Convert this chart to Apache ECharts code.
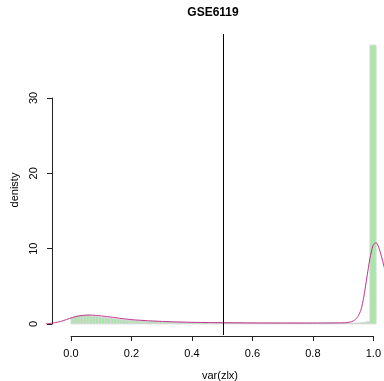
<!DOCTYPE html>
<html>
<head>
<meta charset="utf-8">
<script src="https://cdn.jsdelivr.net/npm/echarts@6/dist/echarts.min.js"></script>
<style>html,body{margin:0;padding:0;background:#fff}#c{width:384px;height:381px}</style>
</head>
<body>
<div id="c"></div>
<script>
// Histogram bins (edges and heights)
var binEdges = [0,0.01,0.02,0.03,0.04,0.05,0.06,0.07,0.08,0.09,
  0.10,0.11,0.12,0.13,0.14,0.15,0.16,0.17,0.18,0.19,
  0.20,0.21,0.22,0.23,0.24,0.25,0.26,0.27,0.28,0.29,
  0.30,0.31,0.32,0.33,0.34,0.35,0.36,0.37,0.38,0.39,
  0.40,0.41,0.42,0.43,0.44,0.45,0.46,0.47,0.48,0.49,
  0.50,0.51,0.52,0.53,0.54,0.55,0.56,0.57,0.58,0.59,
  0.60,0.61,0.62,0.63,0.64,0.65,0.66,0.67,0.68,0.69,
  0.70,0.71,0.72,0.73,0.74,0.75,0.76,0.77,0.78,0.79,
  0.80,0.81,0.82,0.83,0.84,0.85,0.86,0.87,0.88,0.89,
  0.90,0.91,0.92,0.93,0.94,0.95,0.96,0.97,0.98,1.00];
var binHeights = [0.85,0.95,1.05,1.1,1.1,1.1,1.05,1.0,0.95,0.9,
  0.85,0.8,0.75,0.7,0.65,0.6,0.56,0.52,0.48,0.45,
  0.42,0.4,0.38,0.36,0.34,0.32,0.3,0.29,0.28,0.27,
  0.26,0.25,0.24,0.23,0.22,0.21,0.2,0.2,0.19,0.18,
  0.18,0.17,0.17,0.16,0.16,0.15,0.15,0.14,0.14,0.14,
  0.13,0.13,0.13,0.12,0.12,0.12,0.12,0.11,0.11,0.11,
  0.11,0.11,0.1,0.1,0.1,0.1,0.1,0.1,0.1,0.1,
  0.1,0.1,0.1,0.1,0.1,0.09,0.09,0.09,0.09,0.09,
  0.09,0.09,0.09,0.09,0.1,0.1,0.1,0.1,0.1,0.1,
  0.1,0.1,0.1,0.12,0.12,0.15,0.2,0.3,37.0];
// Density curve
var densX = [-0.082,-0.07,-0.06,-0.05,-0.04,-0.03,-0.02,-0.01,0,0.01,0.02,0.03,0.04,0.05,0.06,0.07,0.08,0.1,0.12,0.14,0.16,0.18,0.2,0.25,0.3,0.35,0.4,0.45,0.5,0.6,0.7,0.8,0.85,0.88,0.9,0.91,0.92,0.93,0.94,0.95,0.96,0.97,0.98,0.99,1.0,1.01,1.02,1.03];
var densY = [0.0,0.05,0.1,0.17,0.26,0.37,0.5,0.64,0.78,0.9,1.0,1.08,1.13,1.16,1.17,1.16,1.13,1.05,0.95,0.85,0.74,0.64,0.55,0.42,0.32,0.25,0.2,0.17,0.15,0.12,0.11,0.11,0.12,0.13,0.15,0.2,0.3,0.5,0.95,1.8,3.6,6.2,8.7,10.4,10.8,10.0,8.6,7.0];
var cutoff = 0.5;
var xTicks = [0, 1, 0.2];
var yTicks = [0, 30, 10];

var histData = [];
for (var i = 0; i < binHeights.length; i++) histData.push([binEdges[i], binEdges[i+1], binHeights[i]]);
var lineData = densX.map(function (x, i) { return [x, densY[i]]; });

var chart = echarts.init(document.getElementById('c'), null, {renderer: 'canvas'});
var font = '"Liberation Sans", Arial, sans-serif';
chart.setOption({
  animation: false,
  grid: [
    {left: 46, width: 338, top: 34, height: 301},
    {left: 71, width: 305, top: 335, height: 1},
    {left: 52, width: 1, top: 98, height: 226}
  ],
  xAxis: [
    {gridIndex: 0, type: 'value', min: -0.082, max: 1.026, show: false},
    {gridIndex: 1, type: 'value', min: xTicks[0], max: xTicks[1], interval: xTicks[2], position: 'bottom',
      axisLine: {show: true, lineStyle: {color: '#222', width: 1}},
      axisTick: {show: true, length: 5, lineStyle: {color: '#222'}},
      splitLine: {show: false},
      axisLabel: {margin: 12, fontFamily: font, fontSize: 11, color: '#000',
        formatter: function (v) { return v.toFixed(1); }}},
    {gridIndex: 2, type: 'value', min: 0, max: 1, show: false}
  ],
  yAxis: [
    {gridIndex: 0, type: 'value', min: -1.48, max: 38.48, show: false},
    {gridIndex: 1, type: 'value', min: 0, max: 1, show: false},
    {gridIndex: 2, type: 'value', min: yTicks[0], max: yTicks[1], interval: yTicks[2], position: 'left',
      axisLine: {show: true, lineStyle: {color: '#222', width: 1}},
      axisTick: {show: true, length: 5, lineStyle: {color: '#222'}},
      splitLine: {show: false},
      axisLabel: {margin: 13, rotate: 90, fontFamily: font, fontSize: 11, color: '#000'}}
  ],
  graphic: [
    {type: 'text', x: 213, y: 13,
      style: {text: 'GSE6119', font: 'bold 12px ' + font, fill: '#000', textAlign: 'center', textVerticalAlign: 'middle'}},
    {type: 'text', x: 220, y: 376,
      style: {text: 'var(zlx)', font: '11px ' + font, fill: '#000', textAlign: 'center', textVerticalAlign: 'middle'}},
    {type: 'text', rotation: Math.PI / 2, x: 15, y: 190,
      style: {text: 'denisty', font: '11px ' + font, fill: '#000', textAlign: 'center', textVerticalAlign: 'middle'}}
  ],
  series: [
    {type: 'custom', xAxisIndex: 0, yAxisIndex: 0, data: histData, silent: true,
      renderItem: function (params, api) {
        var p0 = api.coord([api.value(0), api.value(2)]);
        var p1 = api.coord([api.value(1), 0]);
        return {type: 'rect',
          shape: {x: p0[0], y: p0[1], width: p1[0] - p0[0], height: p1[1] - p0[1]},
          style: {fill: '#a9e6a9', stroke: '#d6d6d6', lineWidth: 1}};
      },
      encode: {x: [0, 1], y: 2}
    },
    {type: 'line', xAxisIndex: 0, yAxisIndex: 0, data: lineData, showSymbol: false, smooth: 0.2,
      lineStyle: {color: '#bb3389', width: 1}, silent: true,
      markLine: {silent: true, symbol: 'none', label: {show: false},
        lineStyle: {color: '#000', width: 1, type: 'solid'},
        data: [{xAxis: cutoff}]}}
  ]
});
</script>
</body>
</html>
